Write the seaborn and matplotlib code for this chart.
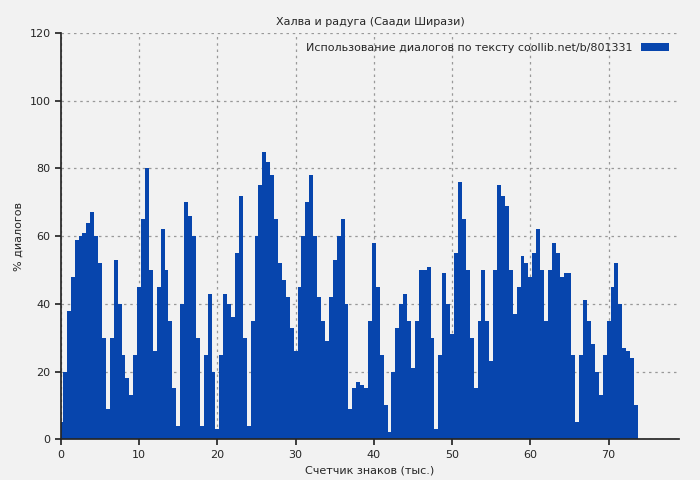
import matplotlib
matplotlib.use("Agg")
import matplotlib.pyplot as plt
import seaborn as sns
import numpy as np

x_vals = [i*0.5 for i in range(149)]
y_vals = [5,20,38,48,59,60,61,64,67,60,52,30,9,30,53,40,25,18,13,25,45,65,80,50,26,45,62,50,35,15,
          4,40,70,66,60,30,4,25,43,20,3,25,43,40,36,55,72,30,4,35,60,75,85,82,78,65,52,47,42,33,
          26,45,60,70,78,60,42,35,29,42,53,60,65,40,9,15,17,16,15,35,58,45,25,10,2,20,33,40,43,35,
          21,35,50,50,51,30,3,25,49,40,31,55,76,65,50,30,15,35,50,35,23,50,75,72,69,50,37,45,54,52,
          48,55,62,50,35,50,58,55,48,49,49,25,5,25,41,35,28,20,13,25,35,45,52,40,27,26,24,10,0]
x_ticks = [0,10,20,30,40,50,60,70]
y_ticks = [0,20,40,60,80,100,120]

sns.set_theme(style="ticks")
plt.rcParams['font.family'] = ['DejaVu Sans']
fig, ax = plt.subplots(figsize=(7,4.8), dpi=100)
fig.patch.set_facecolor('#f2f2f2')
ax.set_facecolor('#f2f2f2')
ax.fill_between(x_vals, y_vals, step='mid', color='#0745ad', linewidth=0,
                label='Использование диалогов по тексту coollib.net/b/801331')
ax.set_xlim(0, 79)
ax.set_ylim(0, 120)
ax.set_xticks(x_ticks)
ax.set_yticks(y_ticks)
ax.grid(True, linestyle=(0,(2,3)), color='#999999', linewidth=0.9)
ax.tick_params(labelsize=8, direction='out', length=4)
ax.set_xlabel('Счетчик знаков (тыс.)', fontsize=8)
ax.set_ylabel('% диалогов', fontsize=8)
ax.set_title('Халва и радуга (Саади Ширази)', fontsize=8)
for s in ['top','right']:
    ax.spines[s].set_visible(False)
leg = ax.legend(loc='upper right', fontsize=8, frameon=False, handlelength=2.5, markerfirst=False)
fig.subplots_adjust(left=0.087, right=0.97, top=0.931, bottom=0.085)
fig.savefig('out.png', dpi=100, facecolor=fig.get_facecolor())
